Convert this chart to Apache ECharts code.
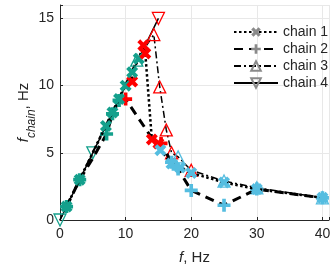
<!DOCTYPE html>
<html><head><meta charset="utf-8">
<script src="https://cdn.jsdelivr.net/npm/echarts@6/dist/echarts.min.js"></script>
<style>html,body{margin:0;padding:0;background:#fff}#c{width:335px;height:275px}</style>
</head><body><div id="c"></div>
<script>
// ---- data ----
const seriesNames = ['chain 1', 'chain 2', 'chain 3', 'chain 4'];
const xTicks = [0, 10, 20, 30, 40];
const yTicks = [0, 5, 10, 15];
// regime per point: t = synchronized (teal), r = transition (red), b = beyond (light blue), n = no marker
const chain1F = [1, 3, 7, 8, 9, 10, 11, 11, 12, 12.7, 13, 14, 15, 15.3, 17, 18.3, 20, 25, 30, 40];
const chain1Y = [1, 3, 7, 8, 9, 10, 10.3, 11, 12, 13, 12.4, 6, 5.7, 5.2, 4.2, 3.9, 3.5, 2.8, 2.3, 1.65];
const chain1R = ['t','t','t','t','t','t','r','t','t','r','r','r','r','b','b','b','b','b','b','b'];
const chain2F = [1, 3, 5, 7.1, 8, 9, 10, 14, 15.4, 17, 18, 20, 25, 30, 40];
const chain2Y = [1, 3, 4.6, 6.4, 7.9, 8.9, 9, 6.1, 5.7, 4.3, 3.8, 2.2, 1.1, 2.3, 1.65];
const chain2R = ['t','t','n','t','t','t','r','n','r','b','b','b','b','b','b'];
const chain3F = [0, 11.7, 14.3, 15.2, 16.2, 17, 18, 20, 25, 30, 40];
const chain3Y = [0, 11.9, 13.8, 9.9, 6.7, 5.0, 4.7, 3.7, 2.9, 2.4, 1.65];
const chain3R = ['n','t','r','r','r','r','b','r','b','b','b'];
const chain4F = [0, 5, 15];
const chain4Y = [0, 5, 15];
const chain4R = ['t','t','r'];

const regimeColor = {t: '#14a08c', r: '#ff0000', b: '#55bde0'};
const FONT = "'Liberation Sans', Arial, Helvetica, sans-serif";
const TXT = '#262626';

const symX = 'path://M0,2.4 L2.4,0 L5,2.6 L7.6,0 L10,2.4 L7.4,5 L10,7.6 L7.6,10 L5,7.4 L2.4,10 L0,7.6 L2.6,5 Z';
const symPlus = 'path://M3.6,0 H6.4 V3.6 H10 V6.4 H6.4 V10 H3.6 V6.4 H0 V3.6 H3.6 Z';

function buildFilled(fs, ys, rs) {
  return fs.map((f, i) => {
    const item = {value: [f, ys[i]]};
    if (rs[i] === 'n') item.symbol = 'none';
    else item.itemStyle = {color: regimeColor[rs[i]]};
    return item;
  });
}
function buildHollow(fs, ys, rs) {
  return fs.map((f, i) => {
    const item = {value: [f, ys[i]]};
    if (rs[i] === 'n') item.symbol = 'none';
    else item.itemStyle = {borderColor: regimeColor[rs[i]], color: 'rgba(255,255,255,0)'};
    return item;
  });
}

const chart = echarts.init(document.getElementById('c'), null, {renderer: 'canvas'});
chart.setOption({
  animation: false,
  backgroundColor: '#fff',
  textStyle: {fontFamily: FONT},
  grid: {left: 60, right: 6, top: 5, bottom: 55},
  legend: {
    orient: 'vertical', left: 228, top: 20, itemWidth: 44, itemHeight: 12, itemGap: 3,
    textStyle: {fontSize: 14, color: TXT, fontFamily: FONT},
    data: seriesNames
  },
  xAxis: {
    type: 'value', min: 0, max: 41, interval: 10,
    name: '{it|f}, Hz', nameLocation: 'middle', nameGap: 30, nameMoveOverlap: false,
    nameTextStyle: {fontSize: 15, color: TXT, rich: {it: {fontStyle: 'italic', fontSize: 15, color: TXT}}},
    axisLine: {lineStyle: {color: '#262626', width: 1}},
    axisTick: {inside: true, length: 3, lineStyle: {color: '#262626'}},
    axisLabel: {fontSize: 14, color: TXT, margin: 7, formatter: v => xTicks.includes(v) ? String(v) : ''},
    splitLine: {show: true, lineStyle: {color: '#e8e8e8', width: 1}}
  },
  yAxis: {
    type: 'value', min: 0, max: 16, interval: 5,
    name: '{it|f}{sub|chain}, Hz', nameLocation: 'middle', nameGap: 26, nameRotate: 90, nameMoveOverlap: false,
    nameTextStyle: {fontSize: 15, color: TXT, lineHeight: 20,
      rich: {it: {fontStyle: 'italic', fontSize: 15, color: TXT, lineHeight: 20},
             sub: {fontStyle: 'italic', fontSize: 12, color: TXT, verticalAlign: 'bottom', lineHeight: 20, padding: [0, 0, -4, 0]}}},
    axisLine: {show: true, lineStyle: {color: '#262626', width: 1}},
    axisTick: {show: true, inside: true, length: 3, lineStyle: {color: '#262626'}},
    axisLabel: {fontSize: 14, color: TXT, margin: 6, formatter: v => yTicks.includes(v) ? String(v) : ''},
    splitLine: {show: true, lineStyle: {color: '#e8e8e8', width: 1}}
  },
  series: [
    {
      name: seriesNames[3], type: 'line', z: 2,
      symbol: 'triangle', symbolRotate: 180, symbolSize: 12, showAllSymbol: true,
      itemStyle: {color: 'rgba(255,255,255,0)', borderColor: '#8a8a8a', borderWidth: 1.3},
      lineStyle: {color: '#000', width: 1.5, type: 'solid'},
      data: buildHollow(chain4F, chain4Y, chain4R)
    },
    {
      name: seriesNames[2], type: 'line', z: 2,
      symbol: 'triangle', symbolSize: 12, showAllSymbol: true,
      itemStyle: {color: 'rgba(255,255,255,0)', borderColor: '#8a8a8a', borderWidth: 1.3},
      lineStyle: {color: '#000', width: 1.5, type: [7, 3, 2, 3]},
      data: buildHollow(chain3F, chain3Y, chain3R)
    },
    {
      name: seriesNames[1], type: 'line', z: 3,
      symbol: symPlus, symbolSize: 13, showAllSymbol: true,
      itemStyle: {color: '#8a8a8a'},
      lineStyle: {color: '#000', width: 3, type: [9, 6]},
      data: buildFilled(chain2F, chain2Y, chain2R)
    },
    {
      name: seriesNames[0], type: 'line', z: 4,
      symbol: symX, symbolSize: 12, showAllSymbol: true,
      itemStyle: {color: '#8a8a8a'},
      lineStyle: {color: '#000', width: 2.5, type: [2.5, 2.5]},
      data: buildFilled(chain1F, chain1Y, chain1R)
    }
  ]
});
</script></body></html>
